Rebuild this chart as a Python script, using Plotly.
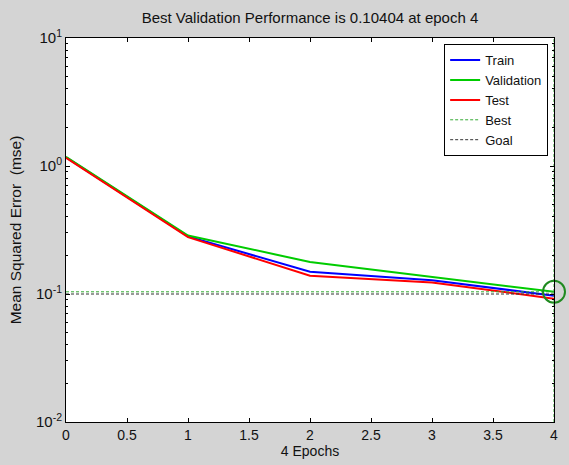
import plotly.graph_objects as go

epochs = [0, 1, 2, 3, 4]
train_mse = [1.17, 0.282, 0.149, 0.128, 0.097]
val_mse = [1.18, 0.286, 0.178, 0.137, 0.10404]
test_mse = [1.16, 0.278, 0.139, 0.123, 0.092]
best_epoch = 4
best_perf = 0.10404
goal = 0.1
y_min, y_max = 0.01, 10

x_ticks = [0, 0.5, 1, 1.5, 2, 2.5, 3, 3.5, 4]
x_ticklabels = ["0", "0.5", "1", "1.5", "2", "2.5", "3", "3.5", "4"]
y_ticks = [0.01, 0.1, 1, 10]
y_ticklabels = ["10<sup>-2</sup>", "10<sup>-1</sup>", "10<sup>0</sup>", "10<sup>1</sup>"]

BLUE = "#0000ff"
GREEN = "#00cc00"
RED = "#ff0000"
FONT = "Liberation Sans, Arial, sans-serif"

fig = go.Figure()
fig.add_trace(go.Scatter(x=epochs, y=train_mse, mode="lines", name="Train",
                         line=dict(color=BLUE, width=2)))
fig.add_trace(go.Scatter(x=epochs, y=val_mse, mode="lines", name="Validation",
                         line=dict(color=GREEN, width=2)))
fig.add_trace(go.Scatter(x=epochs, y=test_mse, mode="lines", name="Test",
                         line=dict(color=RED, width=2)))
fig.add_trace(go.Scatter(x=[epochs[0], epochs[-1], None, best_epoch, best_epoch],
                         y=[best_perf, best_perf, None, y_min, y_max],
                         mode="lines", name="Best", connectgaps=False,
                         line=dict(color="#33aa33", width=1, dash="3px,2px")))
fig.add_trace(go.Scatter(x=[epochs[0], epochs[-1]], y=[goal, goal], mode="lines", name="Goal",
                         line=dict(color="#333333", width=1, dash="3px,2px")))
fig.add_trace(go.Scatter(x=[best_epoch], y=[best_perf], mode="markers", showlegend=False,
                         marker=dict(symbol="circle-open", size=22, color="#1f8a1f",
                                     line=dict(width=2, color="#1f8a1f")),
                         cliponaxis=False))

L, R, T, B = 66, 15, 38, 43
fig.update_layout(
    width=569, height=465,
    paper_bgcolor="#d4d4d4", plot_bgcolor="white",
    margin=dict(l=L, r=R, t=T, b=B, autoexpand=False),
    font=dict(family=FONT, size=13, color="#111111"),
    title=dict(text="Best Validation Performance is 0.10404 at epoch 4",
               x=(L + 569 - R) / 2 / 569, xanchor="center", y=1 - 18 / 465, yanchor="middle",
               font=dict(size=15)),
    legend=dict(x=0.988, xanchor="right", y=0.984, yanchor="top",
                bgcolor="white", bordercolor="black", borderwidth=1,
                font=dict(size=13), tracegroupgap=0),
    showlegend=True,
)
fig.update_xaxes(range=[0, 4], tickvals=x_ticks, ticktext=x_ticklabels,
                 ticks="inside", ticklen=4, tickcolor="black", tickfont=dict(size=14),
                 showline=True, linecolor="black", linewidth=1, mirror="ticks",
                 showgrid=False, zeroline=False,
                 title=dict(text="4 Epochs", standoff=2, font=dict(size=14)))
fig.update_yaxes(type="log", range=[-2, 1], tickvals=y_ticks, ticktext=y_ticklabels,
                 ticks="inside", ticklen=4, tickcolor="black", tickfont=dict(size=15),
                 minor=dict(ticks="inside", ticklen=2, tickcolor="black", dtick="D1", showgrid=False),
                 showline=True, linecolor="black", linewidth=1, mirror="ticks",
                 showgrid=False, zeroline=False,
                 title=dict(text="Mean Squared Error  (mse)", standoff=10, font=dict(size=15.5)))

fig.write_html("out.html", config={"displayModeBar": False},
               post_script="document.body.style.margin='0';")
